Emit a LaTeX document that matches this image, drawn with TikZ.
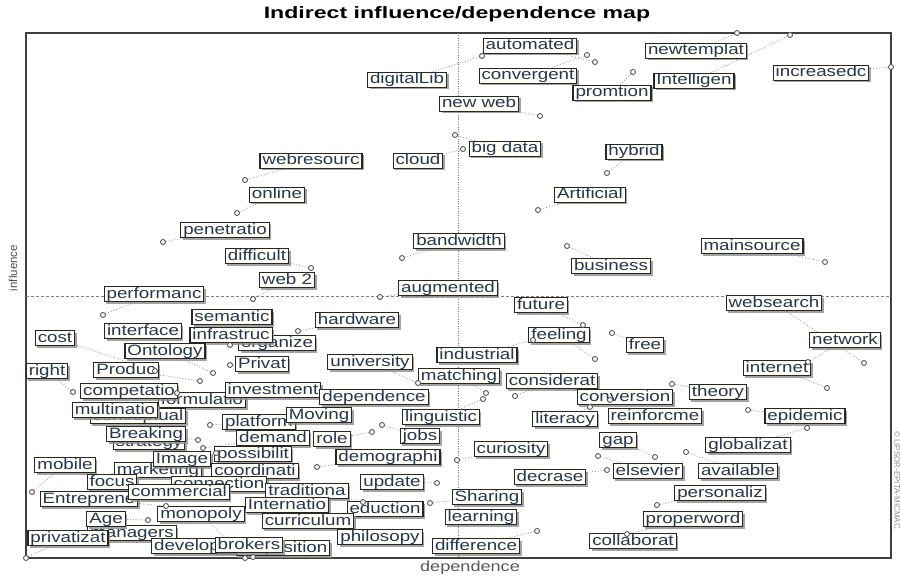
\documentclass[tikz,border=0pt]{standalone}
\usepackage{fontspec}
\newfontfamily\varfont[FakeStretch=1.25]{Liberation Sans}
\newfontfamily\headfont[FakeStretch=1.4]{Liberation Sans}
\newfontfamily\axisfont{Liberation Sans}
\usetikzlibrary{shadows,backgrounds}
\definecolor{vartext}{HTML}{22365A}
\definecolor{varfill}{HTML}{FFFFF3}
\definecolor{leadgray}{HTML}{8A8A8A}
\tikzset{
  varbox/.style={draw=black!85, line width=1.1pt, fill=varfill, text=vartext,
    font=\varfont\fontsize{15}{17}\selectfont, inner xsep=2.5pt, inner ysep=0.5pt,
    text height=11pt, text depth=3pt,
    drop shadow={shadow xshift=2pt, shadow yshift=-2pt, fill=black!45, opacity=0.8}},
  vpoint/.style={circle, draw=black!65, line width=0.9pt, fill=white, inner sep=0pt, minimum size=5pt},
  leader/.style={draw=leadgray, dotted, line width=0.8pt},
}

\begin{document}
\begin{tikzpicture}[x=1pt,y=-1pt]
  \useasboundingbox (0,0) rectangle (901,577);
  \node[font=\headfont\bfseries\fontsize{16.5}{18}\selectfont] (title) at (457,14) {Indirect influence/dependence map};
  \draw[line width=1.2pt, black!75] (26,33) rectangle (891,558);
  \draw[dotted, black!55] (458,33) -- (458,558);
  \draw[black!50, dash pattern=on 3pt off 2pt] (26,296) -- (891,296);
  \node[rotate=90, font=\axisfont\fontsize{11.5}{12}\selectfont, text=black!70] (infl) at (13,268) {influence};
  \node[font=\varfont\fontsize{14.5}{16}\selectfont, text=black!65] (depd) at (470,568) {dependence};
  \node[rotate=-90, font=\axisfont\fontsize{8}{9}\selectfont, text=black!45] (lipsor) at (897,480) {© LIPSOR-EPITA-MICMAC};

  % variables, upper half
  \node[varbox] (digitalLib) at (407,80) {digitalLib};
  \node[varbox] (automated) at (530,46) {automated};
  \node[varbox] (convergent) at (528,76) {convergent};
  \node[varbox] (newweb) at (479,104) {new web};
  \node[varbox] (promtion) at (612,93) {promtion};
  \node[varbox] (newtemplat) at (696,51) {newtemplat};
  \node[varbox] (Intelligen) at (694,81) {Intelligen};
  \node[varbox] (increasedc) at (821,73) {increasedc};
  \node[varbox] (bigdata) at (505,149) {big data};
  \node[varbox] (hybrid) at (634,152) {hybrid};
  \node[varbox] (Artificial) at (590,195) {Artificial};
  \node[varbox] (webresourc) at (311,161) {webresourc};
  \node[varbox] (cloud) at (418,161) {cloud};
  \node[varbox] (online) at (277,195) {online};
  \node[varbox] (penetratio) at (225,230) {penetratio};
  \node[varbox] (difficult) at (257,256) {difficult};
  \node[varbox] (webtwo) at (287,280) {web 2};
  \node[varbox] (bandwidth) at (459,241) {bandwidth};
  \node[varbox] (augmented) at (448,288) {augmented};
  \node[varbox] (business) at (611,266) {business};
  \node[varbox] (mainsource) at (752,246) {mainsource};

  % variables, lower half
  \node[varbox] (performanc) at (154,294) {performanc};
  \node[varbox] (semantic) at (232,317) {semantic};
  \node[varbox] (hardware) at (357,320) {hardware};
  \node[varbox] (interface) at (143,331) {interface};
  \node[varbox] (organize) at (277,343) {organize};
  \node[varbox] (infrastruc) at (231,335) {infrastruc};
  \node[varbox] (cost) at (55,338) {cost};
  \node[varbox] (Ontology) at (165,351) {Ontology};
  \node[varbox] (Privat) at (262,364) {Privat};
  \node[varbox] (university) at (370,362) {university};
  \node[varbox] (right) at (47,371) {right};
  \node[varbox] (Produc) at (126,370) {Produc};
  \node[varbox] (formulatio) at (202,400) {formulatio};
  \node[varbox] (competatio) at (129,391) {competatio};
  \node[varbox] (investment) at (273,390) {investment};
  \node[varbox] (dependence) at (374,397) {dependence};
  \node[varbox] (industrial) at (477,355) {industrial};
  \node[varbox] (matching) at (459,376) {matching};
  \node[varbox] (considerat) at (552,381) {considerat};
  \node[varbox] (future) at (541,305) {future};
  \node[varbox] (feeling) at (559,335) {feeling};
  \node[varbox] (free) at (645,345) {free};
  \node[varbox] (websearch) at (774,303) {websearch};
  \node[varbox] (network) at (845,340) {network};
  \node[varbox] (internet) at (777,368) {internet};
  \node[varbox] (theory) at (718,392) {theory};
  \node[varbox] (conversion) at (625,397) {conversion};
  \node[varbox] (literacy) at (565,419) {literacy};
  \node[varbox] (reinforcme) at (655,416) {reinforcme};
  \node[varbox] (epidemic) at (805,416) {epidemic};
  \node[varbox] (gap) at (618,440) {gap};
  \node[varbox] (globalizat) at (748,445) {globalizat};
  \node[varbox] (curiosity) at (511,449) {curiosity};
  \node[varbox] (elsevier) at (648,471) {elsevier};
  \node[varbox] (available) at (738,471) {available};
  \node[varbox] (decrase) at (550,477) {decrase};
  \node[varbox] (personaliz) at (720,493) {personaliz};
  \node[varbox] (Sharing) at (487,497) {Sharing};
  \node[varbox] (learning) at (481,517) {learning};
  \node[varbox] (properword) at (693,519) {properword};
  \node[varbox] (difference) at (476,546) {difference};
  \node[varbox] (collaborat) at (633,541) {collaborat};
  \node[varbox] (linguistic) at (441,417) {linguistic};
  \node[varbox] (jobs) at (420,436) {jobs};
  \node[varbox] (demographi) at (388,457) {demographi};
  \node[varbox] (role) at (332,439) {role};
  \node[varbox] (platform) at (259,422) {platform};
  \node[varbox] (Moving) at (319,415) {Moving};
  \node[varbox] (demand) at (273,438) {demand};
  \node[varbox] (conceptual) at (138,416) {conceptual};
  \node[varbox] (multinatio) at (115,410) {multinatio};
  \node[varbox] (strategy) at (149,442) {strategy};
  \node[varbox] (Breaking) at (146,434) {Breaking};
  \node[varbox] (marketing) at (158,470) {marketing};
  \node[varbox] (Image) at (182,459) {Image};
  \node[varbox] (possibilit) at (253,454) {possibilit};
  \node[varbox] (coordinati) at (255,471) {coordinati};
  \node[varbox] (mobile) at (65,465) {mobile};
  \node[varbox] (focus) at (112,482) {focus};
  \node[varbox] (connection) at (219,484) {connection};
  \node[varbox] (Entreprene) at (89,499) {Entreprene};
  \node[varbox] (commercial) at (179,492) {commercial};
  \node[varbox] (traditiona) at (307,491) {traditiona};
  \node[varbox] (Internatio) at (287,505) {Internatio};
  \node[varbox] (eduction) at (385,509) {eduction};
  \node[varbox] (update) at (392,482) {update};
  \node[varbox] (monopoly) at (201,514) {monopoly};
  \node[varbox] (curriculum) at (308,521) {curriculum};
  \node[varbox] (managers) at (132,533) {managers};
  \node[varbox] (Age) at (106,519) {Age};
  \node[varbox] (privatizat) at (68,538) {privatizat};
  \node[varbox] (philosopy) at (380,537) {philosopy};
  \node[varbox] (developme) at (200,546) {developme};
  \node[varbox] (acquisition) at (283,548) {acquisition};
  \node[varbox] (brokers) at (249,545) {brokers};

  % points
  \node[vpoint] (pdigitalLib) at (482,56) {};
  \node[vpoint] (pconvergent) at (587,55) {};
  \node[vpoint] (pautomated) at (595,62) {};
  \node[vpoint] (ppromtion) at (633,72) {};
  \node[vpoint] (pnewtemplat) at (737,33) {};
  \node[vpoint] (pIntelligen) at (790,35) {};
  \node[vpoint] (pincreasedc) at (891,67) {};
  \node[vpoint] (pnewweb) at (540,116) {};
  \node[vpoint] (pbigdata) at (455,135) {};
  \node[vpoint] (pcloud) at (463,149) {};
  \node[vpoint] (phybrid) at (607,173) {};
  \node[vpoint] (pArtificial) at (538,210) {};
  \node[vpoint] (pwebresourc) at (245,180) {};
  \node[vpoint] (ponline) at (237,213) {};
  \node[vpoint] (ppenetratio) at (163,242) {};
  \node[vpoint] (pdifficult) at (311,268) {};
  \node[vpoint] (pwebtwo) at (253,299) {};
  \node[vpoint] (pbandwidth) at (402,258) {};
  \node[vpoint] (paugmented) at (380,297) {};
  \node[vpoint] (pbusiness) at (567,246) {};
  \node[vpoint] (pmainsource) at (825,262) {};
  \node[vpoint] (pperformanc) at (103,315) {};
  \node[vpoint] (phardware) at (298,331) {};
  \node[vpoint] (pinfrastruc) at (230,345) {};
  \node[vpoint] (pPrivat) at (230,365) {};
  \node[vpoint] (pcost) at (155,371) {};
  \node[vpoint] (pright) at (73,392) {};
  \node[vpoint] (pformulatio) at (177,393) {};
  \node[vpoint] (pOntology) at (213,373) {};
  \node[vpoint] (pProduc) at (200,381) {};
  \node[vpoint] (puniversity) at (418,383) {};
  \node[vpoint] (pindustrial) at (533,340) {};
  \node[vpoint] (pfuture) at (583,325) {};
  \node[vpoint] (pfeeling) at (595,359) {};
  \node[vpoint] (pfree) at (612,333) {};
  \node[vpoint] (pwebsearch) at (864,363) {};
  \node[vpoint] (pnetwork) at (808,362) {};
  \node[vpoint] (pinternet) at (827,388) {};
  \node[vpoint] (ptheory) at (672,384) {};
  \node[vpoint] (pepidemic) at (748,410) {};
  \node[vpoint] (pglobalizat) at (807,428) {};
  \node[vpoint] (pconversion) at (610,400) {};
  \node[vpoint] (pliteracy) at (590,407) {};
  \node[vpoint] (pconsiderat) at (515,396) {};
  \node[vpoint] (pmatching) at (486,393) {};
  \node[vpoint] (plinguistic) at (483,399) {};
  \node[vpoint] (pgap) at (655,457) {};
  \node[vpoint] (pdecrase) at (607,470) {};
  \node[vpoint] (pelsevier) at (598,456) {};
  \node[vpoint] (pavailable) at (686,452) {};
  \node[vpoint] (pcuriosity) at (457,460) {};
  \node[vpoint] (ppersonaliz) at (657,505) {};
  \node[vpoint] (pproperword) at (627,534) {};
  \node[vpoint] (pdifference) at (537,531) {};
  \node[vpoint] (pSharing) at (430,503) {};
  \node[vpoint] (pmobile) at (32,492) {};
  \node[vpoint] (pprivatizat) at (26,558) {};
  \node[vpoint] (pAge) at (148,520) {};
  \node[vpoint] (pEntreprene) at (166,506) {};
  \node[vpoint] (pmonopoly) at (245,558) {};
  \node[vpoint] (pbrokers) at (253,557) {};
  \node[vpoint] (pdemographi) at (317,467) {};
  \node[vpoint] (pupdate) at (437,483) {};
  \node[vpoint] (prole) at (372,432) {};
  \node[vpoint] (pjobs) at (382,425) {};
  \node[vpoint] (pplatform) at (210,425) {};
  \node[vpoint] (pBreaking) at (198,440) {};
  \node[vpoint] (pdemand) at (203,448) {};
  \node[vpoint] (ppossibilit) at (216,453) {};
  \node[vpoint] (ptraditiona) at (363,502) {};

  % leaders behind everything
  \begin{pgfonlayer}{background}
    \draw[leader] (pdigitalLib) -- (digitalLib);
    \draw[leader] (pconvergent) -- (convergent);
    \draw[leader] (pautomated) -- (automated);
    \draw[leader] (ppromtion) -- (promtion);
    \draw[leader] (pnewtemplat) -- (newtemplat);
    \draw[leader] (pIntelligen) -- (Intelligen);
    \draw[leader] (pincreasedc) -- (increasedc);
    \draw[leader] (pnewweb) -- (newweb);
    \draw[leader] (pbigdata) -- (bigdata);
    \draw[leader] (pcloud) -- (cloud);
    \draw[leader] (phybrid) -- (hybrid);
    \draw[leader] (pArtificial) -- (Artificial);
    \draw[leader] (pwebresourc) -- (webresourc);
    \draw[leader] (ponline) -- (online);
    \draw[leader] (ppenetratio) -- (penetratio);
    \draw[leader] (pdifficult) -- (difficult);
    \draw[leader] (pwebtwo) -- (webtwo);
    \draw[leader] (pbandwidth) -- (bandwidth);
    \draw[leader] (paugmented) -- (augmented);
    \draw[leader] (pbusiness) -- (business);
    \draw[leader] (pmainsource) -- (mainsource);
    \draw[leader] (pperformanc) -- (performanc);
    \draw[leader] (phardware) -- (hardware);
    \draw[leader] (pinfrastruc) -- (infrastruc);
    \draw[leader] (pPrivat) -- (Privat);
    \draw[leader] (pcost) -- (cost);
    \draw[leader] (pright) -- (right);
    \draw[leader] (pformulatio) -- (formulatio);
    \draw[leader] (pOntology) -- (Ontology);
    \draw[leader] (pProduc) -- (Produc);
    \draw[leader] (puniversity) -- (university);
    \draw[leader] (pindustrial) -- (industrial);
    \draw[leader] (pfuture) -- (future);
    \draw[leader] (pfeeling) -- (feeling);
    \draw[leader] (pfree) -- (free);
    \draw[leader] (pwebsearch) -- (websearch);
    \draw[leader] (pnetwork) -- (network);
    \draw[leader] (pinternet) -- (internet);
    \draw[leader] (ptheory) -- (theory);
    \draw[leader] (pepidemic) -- (epidemic);
    \draw[leader] (pglobalizat) -- (globalizat);
    \draw[leader] (pconversion) -- (conversion);
    \draw[leader] (pliteracy) -- (literacy);
    \draw[leader] (pconsiderat) -- (considerat);
    \draw[leader] (pmatching) -- (matching);
    \draw[leader] (plinguistic) -- (linguistic);
    \draw[leader] (pgap) -- (gap);
    \draw[leader] (pdecrase) -- (decrase);
    \draw[leader] (pelsevier) -- (elsevier);
    \draw[leader] (pavailable) -- (available);
    \draw[leader] (pcuriosity) -- (curiosity);
    \draw[leader] (ppersonaliz) -- (personaliz);
    \draw[leader] (pproperword) -- (properword);
    \draw[leader] (pdifference) -- (difference);
    \draw[leader] (pSharing) -- (Sharing);
    \draw[leader] (pmobile) -- (mobile);
    \draw[leader] (pprivatizat) -- (privatizat);
    \draw[leader] (pAge) -- (Age);
    \draw[leader] (pEntreprene) -- (Entreprene);
    \draw[leader] (pmonopoly) -- (monopoly);
    \draw[leader] (pbrokers) -- (brokers);
    \draw[leader] (pdemographi) -- (demographi);
    \draw[leader] (pupdate) -- (update);
    \draw[leader] (prole) -- (role);
    \draw[leader] (pjobs) -- (jobs);
    \draw[leader] (pplatform) -- (platform);
    \draw[leader] (pBreaking) -- (Breaking);
    \draw[leader] (pdemand) -- (demand);
    \draw[leader] (ppossibilit) -- (possibilit);
    \draw[leader] (ptraditiona) -- (traditiona);
  \end{pgfonlayer}
\end{tikzpicture}
\end{document}
